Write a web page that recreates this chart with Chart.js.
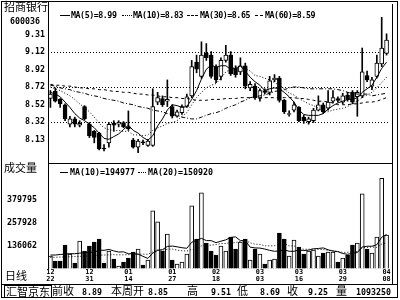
<!DOCTYPE html>
<html>
<head>
<meta charset="utf-8">
<script src="https://cdn.jsdelivr.net/npm/chart.js@4"></script>
<style>
  body { margin: 0; background: #fff; }
  #wrap { position: relative; width: 400px; height: 300px; overflow: hidden; background: #fff;
          font-family: "DejaVu Sans Mono", monospace; font-weight: bold; font-size: 8.3px; color: #000; }
  canvas { position: absolute; left: 0; }
  .t { position: absolute; white-space: pre; line-height: 1; }
  .h { letter-spacing: -0.45px; }
  .cjk { font-family: "Noto Sans CJK SC", sans-serif; font-weight: normal; font-size: 11px; }
  .ln { position: absolute; background: #000; }
  .sw { position: absolute; height: 0; border-top: 1px solid #000; }
</style>
</head>
<body>
<div id="wrap">
  <canvas id="price" width="400" height="165" style="top:0"></canvas>
  <canvas id="vol" width="400" height="121" style="top:164px"></canvas>

  <!-- frame -->
  <div class="ln" style="left:1px;top:1px;width:397px;height:1px"></div>
  <div class="ln" style="left:1px;top:1px;width:1px;height:297px"></div>
  <div class="ln" style="left:1px;top:297px;width:397px;height:1px"></div>
  <div class="ln" style="left:397px;top:1px;width:1px;height:297px"></div>
  <div class="ln" style="left:392px;top:4px;width:1px;height:280px"></div>
  <div class="ln" style="left:48px;top:1px;width:1px;height:268px"></div>
  <div class="ln" style="left:48px;top:163px;width:344px;height:1px"></div>
  <div class="ln" style="left:1px;top:284px;width:397px;height:1px"></div>

  <!-- side labels -->
  <div class="t cjk" style="left:4px;top:1px">招商银行</div>
  <div class="t" style="left:10px;top:17px">600036</div>
  <div class="t cjk" style="left:4px;top:162px">成交量</div>
  <div class="t cjk" style="left:5px;top:270px">日线</div>

  <!-- price legend -->
  <div class="sw" style="left:60px;top:15px;width:10px"></div>
  <div class="t h" style="left:71px;top:11px">MA(5)=8.99</div>
  <div class="sw" style="left:122px;top:15px;width:10px;border-top-style:dotted"></div>
  <div class="t h" style="left:133px;top:11px">MA(10)=8.83</div>
  <div class="sw" style="left:187px;top:15px;width:11px;border-top-style:dashed"></div>
  <div class="t h" style="left:200px;top:11px">MA(30)=8.65</div>
  <div class="sw" style="left:255px;top:15px;width:8px;border-top-style:dashed"></div>
  <div class="t h" style="left:265px;top:11px">MA(60)=8.59</div>

  <!-- volume legend -->
  <div class="sw" style="left:60px;top:172px;width:8px"></div>
  <div class="t" style="left:70px;top:168px">MA(10)=194977</div>
  <div class="sw" style="left:138px;top:172px;width:8px;border-top-style:dotted"></div>
  <div class="t" style="left:148px;top:168px">MA(20)=150920</div>

  <!-- info bar -->
  <div class="t cjk" style="left:4px;top:285px;border:1px solid #000;padding:0 1px;line-height:11px">汇智京东</div>
  <div class="t cjk" style="left:52px;top:285px">前收</div>
  <div class="t" style="left:82px;top:288px">8.89</div>
  <div class="t cjk" style="left:111px;top:285px">本周开</div>
  <div class="t" style="left:148px;top:288px">8.85</div>
  <div class="t cjk" style="left:187px;top:285px">高</div>
  <div class="t" style="left:211px;top:288px">9.51</div>
  <div class="t cjk" style="left:237px;top:285px">低</div>
  <div class="t" style="left:260px;top:288px">8.69</div>
  <div class="t cjk" style="left:287px;top:285px">收</div>
  <div class="t" style="left:308px;top:288px">9.25</div>
  <div class="t cjk" style="left:336px;top:285px">量</div>
  <div class="t" style="left:356px;top:288px">1093250</div>
</div>

<script>
// daily candles
const opens = [
  8.59, 8.67, 8.58, 8.52, 8.30, 8.36, 8.29, 8.50, 8.30, 8.22,
  8.20, 8.03, 8.09, 8.31, 8.30, 8.32, 8.27, 8.12, 8.04, 8.10,
  8.06, 8.06, 8.55, 8.59, 8.56, 8.50, 8.39, 8.43, 8.50, 8.62,
  9.00, 8.84, 9.10, 9.08, 8.95, 8.84, 9.02, 9.08, 8.93, 8.89,
  8.96, 8.71, 8.73, 8.59, 8.68, 8.66, 8.80, 8.82, 8.57, 8.41,
  8.46, 8.49, 8.38, 8.33, 8.34, 8.46, 8.52, 8.48, 8.56, 8.59,
  8.55, 8.63, 8.66, 8.61, 8.62, 8.85, 8.73, 8.84, 8.98, 9.10
];
const highs = [
  8.68, 8.71, 8.59, 8.53, 8.39, 8.38, 8.34, 8.51, 8.32, 8.23,
  8.21, 8.07, 8.32, 8.34, 8.34, 8.33, 8.45, 8.14, 8.13, 8.12,
  8.13, 8.70, 8.66, 8.62, 8.80, 8.52, 8.46, 8.52, 8.64, 9.02,
  9.08, 9.23, 9.21, 9.12, 8.97, 9.05, 9.19, 9.12, 8.96, 9.05,
  8.99, 8.78, 8.76, 8.70, 8.70, 8.84, 8.86, 8.84, 8.58, 8.45,
  8.55, 8.50, 8.40, 8.38, 8.48, 8.62, 8.54, 8.68, 8.68, 8.61,
  8.65, 8.66, 8.68, 8.68, 9.16, 8.90, 8.83, 9.08, 9.51, 9.32
];
const lows = [
  8.49, 8.55, 8.49, 8.34, 8.27, 8.27, 8.27, 8.35, 8.15, 8.09,
  8.01, 8.00, 8.04, 8.22, 8.27, 8.26, 8.23, 8.03, 7.98, 8.07,
  8.05, 8.05, 8.52, 8.50, 8.50, 8.37, 8.38, 8.41, 8.49, 8.60,
  8.88, 8.82, 9.02, 8.82, 8.77, 8.80, 9.00, 8.85, 8.83, 8.86,
  8.70, 8.68, 8.58, 8.56, 8.64, 8.63, 8.78, 8.55, 8.42, 8.39,
  8.44, 8.33, 8.31, 8.30, 8.32, 8.45, 8.42, 8.46, 8.54, 8.55,
  8.53, 8.56, 8.53, 8.39, 8.60, 8.78, 8.69, 8.82, 8.95, 9.08
];
const closes = [
  8.64, 8.56, 8.53, 8.36, 8.36, 8.30, 8.31, 8.36, 8.17, 8.15,
  8.02, 8.02, 8.30, 8.29, 8.32, 8.27, 8.25, 8.04, 8.11, 8.09,
  8.11, 8.50, 8.60, 8.52, 8.58, 8.39, 8.44, 8.50, 8.61, 8.95,
  8.92, 9.08, 9.05, 8.84, 8.80, 9.02, 9.08, 8.87, 8.86, 8.96,
  8.73, 8.75, 8.60, 8.68, 8.66, 8.79, 8.82, 8.57, 8.44, 8.42,
  8.52, 8.34, 8.34, 8.36, 8.46, 8.52, 8.44, 8.55, 8.60, 8.57,
  8.62, 8.58, 8.55, 8.66, 8.89, 8.80, 8.80, 8.99, 9.16, 9.25
];
const volumes = [
  80000, 53200, 53200, 138700, 90600, 42500, 160100, 106700, 133400, 154800,
  170800, 42500, 106700, 63900, 26500, 47900, 69200, 101300, 117400, 31800,
  58600, 320500, 261700, 106700, 197500, 58600, 37200, 47900, 90600, 347200,
  170800, 416700, 149400, 106700, 85300, 133400, 106700, 181500, 117400, 154800,
  170800, 58600, 117400, 90600, 37200, 58600, 63900, 202900, 170800, 80000,
  165500, 128000, 90600, 106700, 112000, 80000, 96000, 101300, 101300, 47900,
  69200, 85300, 138700, 149400, 411300, 117400, 96000, 181500, 495000, 192200
];

// moving average lines as drawn
const ma5 = [
  8.66, 8.64, 8.61, 8.55, 8.49, 8.42, 8.37, 8.34, 8.30, 8.26,
  8.20, 8.14, 8.13, 8.16, 8.19, 8.24, 8.29, 8.23, 8.20, 8.15,
  8.12, 8.17, 8.28, 8.36, 8.46, 8.52, 8.51, 8.49, 8.50, 8.58,
  8.68, 8.81, 8.92, 8.97, 8.94, 8.96, 8.96, 8.92, 8.93, 8.96,
  8.90, 8.83, 8.78, 8.74, 8.68, 8.70, 8.71, 8.70, 8.66, 8.61,
  8.55, 8.46, 8.41, 8.40, 8.40, 8.40, 8.42, 8.47, 8.51, 8.54,
  8.56, 8.58, 8.58, 8.60, 8.66, 8.70, 8.74, 8.83, 8.93, 9.00
];
const ma10 = [
  8.72, 8.70, 8.68, 8.65, 8.62, 8.58, 8.53, 8.49, 8.44, 8.38,
  8.31, 8.26, 8.24, 8.23, 8.23, 8.22, 8.22, 8.18, 8.18, 8.17,
  8.18, 8.23, 8.26, 8.28, 8.31, 8.32, 8.34, 8.39, 8.43, 8.52,
  8.60, 8.66, 8.71, 8.74, 8.76, 8.82, 8.89, 8.92, 8.95, 8.95,
  8.93, 8.90, 8.85, 8.84, 8.82, 8.80, 8.77, 8.74, 8.70, 8.65,
  8.63, 8.59, 8.56, 8.53, 8.51, 8.48, 8.44, 8.44, 8.46, 8.47,
  8.48, 8.50, 8.53, 8.56, 8.60, 8.63, 8.66, 8.71, 8.77, 8.83
];
const ma30 = [
  8.74, 8.73, 8.71, 8.70, 8.69, 8.67, 8.66, 8.65, 8.63, 8.62,
  8.61, 8.59, 8.58, 8.57, 8.56, 8.54, 8.53, 8.52, 8.50, 8.49,
  8.48, 8.46, 8.45, 8.44, 8.42, 8.41, 8.40, 8.38, 8.37, 8.36,
  8.36, 8.38, 8.40, 8.42, 8.43, 8.45, 8.48, 8.50, 8.52, 8.55,
  8.57, 8.60, 8.61, 8.62, 8.63, 8.65, 8.67, 8.68, 8.69, 8.71,
  8.72, 8.72, 8.71, 8.70, 8.70, 8.70, 8.70, 8.70, 8.70, 8.69,
  8.68, 8.66, 8.65, 8.64, 8.64, 8.64, 8.62, 8.63, 8.64, 8.65
];
const ma60 = [
  8.75, 8.74, 8.74, 8.73, 8.73, 8.72, 8.71, 8.71, 8.70, 8.70,
  8.69, 8.69, 8.68, 8.67, 8.67, 8.66, 8.66, 8.65, 8.64, 8.64,
  8.63, 8.63, 8.62, 8.61, 8.61, 8.60, 8.60, 8.59, 8.59, 8.58,
  8.57, 8.57, 8.57, 8.58, 8.58, 8.58, 8.59, 8.59, 8.59, 8.60,
  8.60, 8.60, 8.60, 8.60, 8.60, 8.60, 8.60, 8.60, 8.60, 8.60,
  8.60, 8.59, 8.59, 8.58, 8.57, 8.56, 8.56, 8.55, 8.54, 8.52,
  8.52, 8.52, 8.53, 8.53, 8.54, 8.55, 8.55, 8.56, 8.58, 8.60
];
const volMa10 = [
  85000, 85000, 88000, 90000, 92000, 92000, 95000, 97000, 99000, 101000,
  111000, 110000, 115000, 107000, 101000, 102000, 92000, 92000, 90000, 78000,
  67000, 95000, 110000, 114000, 131000, 133000, 129000, 124000, 121000, 153000,
  164000, 174000, 162000, 162000, 151000, 159000, 166000, 179000, 182000, 162000,
  162000, 127000, 123000, 122000, 117000, 110000, 105000, 107000, 113000, 105000,
  105000, 112000, 109000, 111000, 118000, 120000, 123000, 113000, 106000, 103000,
  93000, 89000, 94000, 98000, 128000, 132000, 132000, 140000, 180000, 194977
];
const volMa20 = [
  72000, 73000, 74000, 75000, 76000, 77000, 78000, 79000, 80000, 82000,
  84000, 85000, 86000, 87000, 86000, 86000, 87000, 88000, 89000, 90000,
  89000, 102000, 112000, 111000, 116000, 117000, 111000, 108000, 106000, 115000,
  115000, 134000, 136000, 138000, 141000, 146000, 147000, 151000, 151000, 158000,
  163000, 150000, 143000, 142000, 134000, 134000, 135000, 143000, 147000, 134000,
  134000, 119000, 116000, 116000, 118000, 115000, 114000, 110000, 109000, 104000,
  99000, 100000, 101000, 104000, 123000, 126000, 128000, 126000, 143000, 150920
];

// axis labels
const priceTicks = [8.1275, 8.325, 8.5225, 8.72, 8.9175, 9.115, 9.3125];
const priceGrid = [8.325, 8.72, 9.115];
const volTicks = [136062, 257928, 379795];
const dateLabels = ['12/22', '12/31', '01/14', '01/27', '02/18', '03/03', '03/16', '03/29', '04/08'];
const dateIdx = [0, 8, 16, 25, 34, 43, 51, 60, 69];

const labels = closes.map((c, i) => i);
const up = closes.map((c, i) => c >= opens[i]);
const tickFont = { family: 'DejaVu Sans Mono', size: 8.3, weight: 'bold' };

function fixWidth(scale) { scale.width = 48; }

new Chart(document.getElementById('price'), {
  type: 'bar',
  data: {
    labels: labels,
    datasets: [
      { type: 'line', data: ma5, borderColor: '#000', borderWidth: 1, pointRadius: 0, tension: 0, order: 0 },
      { type: 'line', data: ma10, borderColor: '#000', borderWidth: 1, borderDash: [1, 2], pointRadius: 0, tension: 0, order: 0 },
      { type: 'line', data: ma30, borderColor: '#000', borderWidth: 1, borderDash: [4, 2, 1, 2], pointRadius: 0, tension: 0, order: 0 },
      { type: 'line', data: ma60, borderColor: '#000', borderWidth: 1, borderDash: [3, 3], pointRadius: 0, tension: 0, order: 0 },
      {
        data: opens.map((o, i) => [o, closes[i]]),
        backgroundColor: up.map(u => u ? '#fff' : '#000'),
        borderColor: '#000', borderWidth: 1, borderSkipped: false,
        barThickness: 4, grouped: false, order: 1
      },
      {
        data: lows.map((l, i) => [l, highs[i]]),
        backgroundColor: '#000', borderWidth: 0,
        barThickness: 1, grouped: false, order: 2
      }
    ]
  },
  options: {
    responsive: false, animation: false, devicePixelRatio: 1,
    layout: { padding: { left: 0, right: 11, top: 17, bottom: 1 } },
    plugins: { legend: { display: false }, tooltip: { enabled: false } },
    scales: {
      x: { type: 'category', offset: true, display: false },
      y: {
        position: 'left', min: 7.93, max: 9.51,
        afterBuildTicks: s => { s.ticks = priceTicks.map(v => ({ value: v })); },
        afterFit: fixWidth,
        ticks: { color: '#000', font: tickFont, padding: 3, callback: v => v.toFixed(2) },
        grid: {
          drawTicks: false,
          color: c => (c.tick && priceGrid.includes(c.tick.value)) ? '#000' : 'rgba(0,0,0,0)'
        },
        border: { display: false, dash: [1, 2] }
      }
    }
  }
});

new Chart(document.getElementById('vol'), {
  type: 'bar',
  data: {
    labels: labels,
    datasets: [
      { type: 'line', data: volMa10, borderColor: '#000', borderWidth: 1, pointRadius: 0, tension: 0, order: 0 },
      { type: 'line', data: volMa20, borderColor: '#000', borderWidth: 1, borderDash: [1, 2], pointRadius: 0, tension: 0, order: 0 },
      {
        data: volumes,
        backgroundColor: up.map(u => u ? '#fff' : '#000'),
        borderColor: '#000', borderWidth: 1, borderSkipped: false,
        barThickness: 4, order: 1
      }
    ]
  },
  options: {
    responsive: false, animation: false, devicePixelRatio: 1,
    layout: { padding: { left: 0, right: 11, top: 13, bottom: 0 } },
    plugins: { legend: { display: false }, tooltip: { enabled: false } },
    scales: {
      x: {
        type: 'category', offset: true,
        afterFit: s => { s.height = 16.7; },
        grid: { display: false, drawTicks: false }, border: { display: false },
        ticks: {
          color: '#000', font: { family: 'DejaVu Sans Mono', size: 6.8, weight: 'bold', lineHeight: 1 },
          autoSkip: false, maxRotation: 0, padding: 1,
          callback: (v, i) => {
            const k = dateIdx.indexOf(i);
            return k < 0 ? '' : dateLabels[k].split('/');
          }
        }
      },
      y: {
        position: 'left', min: 14196, max: 501661,
        afterBuildTicks: s => { s.ticks = volTicks.map(v => ({ value: v })); },
        afterFit: fixWidth,
        ticks: { color: '#000', font: tickFont, padding: 3, callback: v => String(v) },
        grid: { display: false }, border: { display: false }
      }
    }
  }
});
</script>
</body>
</html>
